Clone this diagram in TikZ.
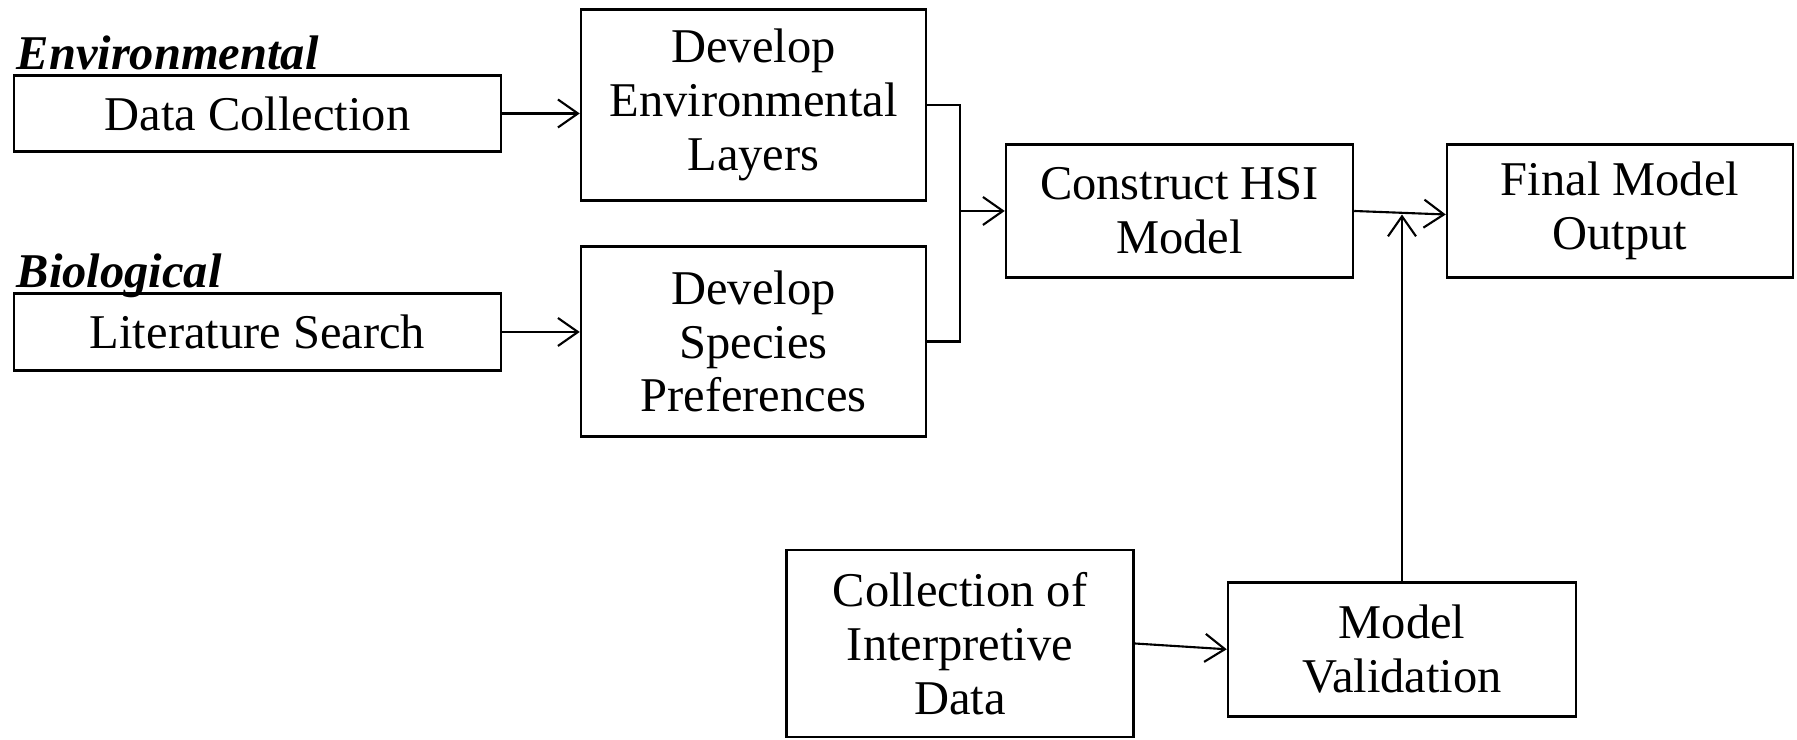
\documentclass[tikz,border=0pt]{standalone}
\usepackage{fontspec}
\setmainfont{Liberation Serif}
\usetikzlibrary{arrows.meta}

\begin{document}
\begin{tikzpicture}[
	box/.style={draw, line width=0.7pt, align=center, inner sep=0pt, font=\fontsize{13.8}{15.3}\selectfont},
	link/.style={-{Straight Barb[length=2mm,width=2.8mm]}, line width=0.6pt},
	tag/.style={anchor=base west, inner sep=0pt, font=\fontsize{13.8}{15.3}\selectfont\bfseries\itshape}
	]
	\useasboundingbox (0,0) rectangle (17.97,7.40);

	% sources
	\node [box, minimum width=4.87cm, minimum height=0.76cm] (datacoll) at (2.575,6.265) {Data Collection};
	\node [box, minimum width=4.87cm, minimum height=0.77cm] (litsearch) at (2.575,4.08) {Literature Search};
	\node [tag] (envtag) at (0.16,6.70) {\underline{Environmental}};
	\node [tag] (biotag) at (0.16,4.52) {Biological};

	% layers
	\node [box, minimum width=3.45cm, minimum height=1.91cm] (envlayers) at (7.535,6.35)
	{
		Develop\\
		Environmental\\
		Layers
	};
	\node [box, minimum width=3.45cm, minimum height=1.90cm] (speciespref) at (7.535,3.985)
	{
		Develop\\
		Species\\
		Preferences
	};

	% model
	\node [box, minimum width=3.47cm, minimum height=1.33cm] (hsi) at (11.795,5.29)
	{
		Construct HSI\\
		Model
	};
	\node [box, minimum width=3.46cm, minimum height=1.33cm] (finalout) at (16.2,5.29)
	{
		Final Model\\
		Output
	};

	% validation
	\node [box, minimum width=3.47cm, minimum height=1.87cm] (interpdata) at (9.6,0.965)
	{
		Collection of\\
		Interpretive\\
		Data
	};
	\node [box, minimum width=3.48cm, minimum height=1.34cm] (validation) at (14.02,0.907)
	{
		Model\\
		Validation
	};

	\draw [link] (datacoll.east) -- (datacoll.east -| envlayers.west);
	\draw [link] (litsearch.east) -- (litsearch.east -| speciespref.west);
	\draw [line width=0.6pt] (envlayers.east) -- ++(0.33,0) coordinate (brtop) |- (speciespref.east);
	\draw [link] (brtop |- hsi.west) -- (hsi.west);
	\draw [link] (hsi.east) -- ([yshift=-1pt]finalout.west);
	\draw [link] (validation.north) -- ([yshift=-1pt]validation.north |- finalout.west);
	\draw [link] (interpdata.east) -- (validation.west);

\end{tikzpicture}
\end{document}
